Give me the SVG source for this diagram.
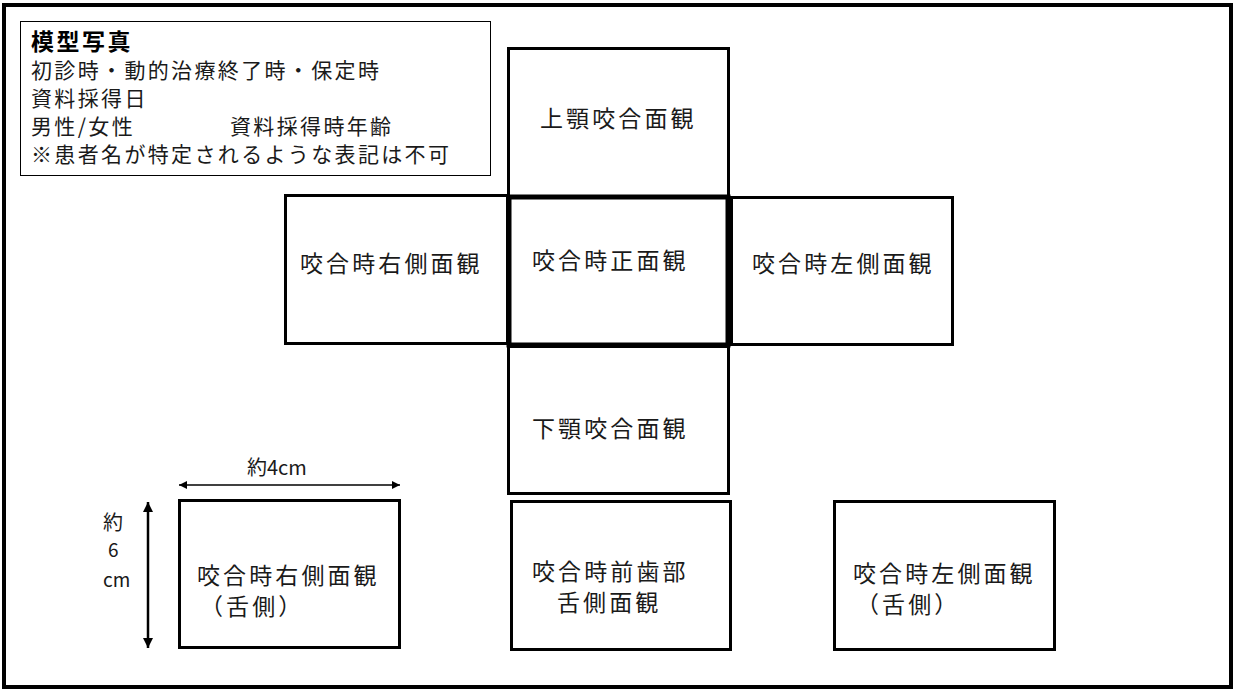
<svg xmlns="http://www.w3.org/2000/svg" width="1237" height="695" viewBox="0 0 1237 695">
<style>
text{font-family:"Noto Sans CJK JP","Liberation Sans",sans-serif;fill:#1a1a1a;}
.lbl{font-size:23px;letter-spacing:3.1px;}
.info{font-size:21px;letter-spacing:2.35px;}
.box{fill:#fff;stroke:#000;stroke-width:3;}
.thick{fill:none;stroke:#000;stroke-width:5;}
.dim{stroke:#000;stroke-width:1.5;fill:none;}
.dimv{stroke:#000;stroke-width:2.5;fill:none;}
</style>
<defs>
<marker id="ah" viewBox="0 0 10 10" refX="10" refY="5" markerWidth="8" markerHeight="8" markerUnits="userSpaceOnUse" orient="auto-start-reverse"><path d="M0,0 L10,5 L0,10 z" fill="#000"/></marker>
<marker id="ahv" viewBox="0 0 10 10" refX="10" refY="5" markerWidth="10" markerHeight="10" markerUnits="userSpaceOnUse" orient="auto-start-reverse"><path d="M0,0 L10,5 L0,10 z" fill="#000"/></marker>
</defs>
<rect x="0" y="0" width="1237" height="695" fill="#fff"/>
<rect x="4" y="5" width="1227" height="682" fill="none" stroke="#000" stroke-width="4"/>

<g id="info">
<rect x="20.5" y="21.5" width="470" height="154" fill="#fff" stroke="#000" stroke-width="1"/>
<text x="31" y="50" style="font-size:23px;font-weight:bold;letter-spacing:2.5px;fill:#000">模型写真</text>
<text class="info" x="31" y="78">初診時・動的治療終了時・保定時</text>
<text class="info" x="31" y="106">資料採得日</text>
<text class="info" x="31" y="134">男性/女性</text>
<text class="info" x="230" y="134">資料採得時年齢</text>
<text class="info" x="31" y="162">※患者名が特定されるような表記は不可</text>
</g>

<g id="upper">
<rect class="box" x="508.5" y="48.5" width="220" height="148"/>
<text class="lbl" x="540" y="127">上顎咬合面観</text>
</g>
<g id="right-side">
<rect class="box" x="285.5" y="195.5" width="222" height="148"/>
<text class="lbl" x="300" y="272">咬合時右側面観</text>
</g>
<g id="left-side">
<rect class="box" x="731.5" y="197.5" width="221" height="147"/>
<text class="lbl" x="752" y="272">咬合時左側面観</text>
</g>
<g id="lower">
<rect class="box" x="508.5" y="346.5" width="220" height="147"/>
<text class="lbl" x="532" y="437">下顎咬合面観</text>
</g>
<g id="front">
<rect class="thick" x="509" y="197" width="219" height="148"/>
<text class="lbl" x="532" y="269">咬合時正面観</text>
</g>

<g id="right-lingual">
<rect class="box" x="179.5" y="500.5" width="220" height="147"/>
<text class="lbl" x="197" y="584">咬合時右側面観</text>
<text class="lbl" x="200" y="615">（舌側）</text>
</g>
<g id="anterior-lingual">
<rect class="box" x="511.5" y="501.5" width="219" height="148"/>
<text class="lbl" x="532" y="580">咬合時前歯部</text>
<text class="lbl" x="557" y="611">舌側面観</text>
</g>
<g id="left-lingual">
<rect class="box" x="834.5" y="501.5" width="220" height="148"/>
<text class="lbl" x="853" y="582">咬合時左側面観</text>
<text class="lbl" x="856" y="613">（舌側）</text>
</g>

<g id="connectors">
<line class="dim" x1="179" y1="485" x2="400" y2="485" marker-start="url(#ah)" marker-end="url(#ah)"/>
<line class="dimv" x1="148" y1="502" x2="148" y2="648" marker-start="url(#ahv)" marker-end="url(#ahv)"/>
</g>
<g id="dim-labels">
<text x="247" y="475" style="font-size:20px">約4cm</text>
<text x="103" y="530" style="font-size:20px">約</text>
<text x="108" y="557" style="font-size:19px">6</text>
<text x="103" y="587" style="font-size:19px">cm</text>
</g>
</svg>
